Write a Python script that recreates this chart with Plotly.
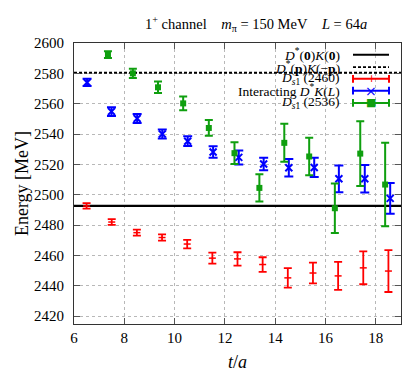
import plotly.graph_objects as go

# lattice data
t_2460 = [6.5, 7.5, 8.5, 9.5, 10.5, 11.5, 12.5, 13.5, 14.5, 15.5, 16.5, 17.5, 18.5]
e_2460 = [2492.6, 2482.0, 2475.0, 2471.8, 2467.5, 2458.2, 2457.7, 2454.0, 2445.2, 2448.4, 2446.5, 2451.8, 2449.7]
err_2460 = [1.8, 1.9, 2.0, 2.1, 2.8, 3.6, 4.4, 4.8, 6.4, 6.8, 9.2, 10.8, 13.8]

t_int = [6.52, 7.49, 8.51, 9.51, 10.52, 11.53, 12.55, 13.54, 14.54, 15.55, 16.53, 17.56, 18.57]
e_int = [2574.0, 2554.8, 2550.2, 2540.0, 2535.3, 2528.2, 2524.6, 2520.2, 2517.8, 2518.0, 2510.5, 2510.5, 2497.6]
err_int = [2.4, 2.9, 3.0, 3.0, 3.2, 3.8, 4.6, 4.1, 5.8, 6.3, 8.8, 9.1, 10.1]

t_2536 = [7.35, 8.34, 9.34, 10.34, 11.36, 12.38, 13.37, 14.36, 15.35, 16.37, 17.38, 18.37]
e_2536 = [2592.3, 2580.0, 2570.8, 2560.2, 2544.0, 2527.4, 2504.5, 2534.2, 2525.2, 2491.1, 2527.1, 2506.7]
err_2536 = [2.2, 3.0, 3.8, 4.6, 5.2, 7.2, 9.0, 12.5, 12.3, 16.3, 21.4, 27.5]

# non-interacting thresholds
e_thr_0 = 2492.7
e_thr_p = 2580.4

x_range = [6, 19]
y_range = [2414.8, 2600]
x_ticks = [6, 8, 10, 12, 14, 16, 18]
y_ticks = [2420, 2440, 2460, 2480, 2500, 2520, 2540, 2560, 2580, 2600]

legend_labels = [
    "<i>D</i><sup>*</sup>(<b>0</b>)<i>K</i>(<b>0</b>)",
    "<i>D</i><sup>*</sup>(<b>p</b>)<i>K</i>(−<b>p</b>)",
    "<i>D<sub>s</sub></i><sub>1</sub> (2460)",
    "Interacting <i>D</i><sup>*</sup><i>K</i>(<i>L</i>)",
    "<i>D<sub>s</sub></i><sub>1</sub> (2536)",
]

RED, BLUE, GREEN = "#ff0000", "#0000ff", "#0f9f0f"
FONT = "Liberation Serif, DejaVu Serif, serif"

W, H = 415, 373
L, R, T, B = 66, 22, 35, 52
pw, ph = W - L - R, H - T - B


def px(x):
    return (x - L) / pw


def py(y):
    return (H - B - y) / ph


fig = go.Figure()
fig.add_trace(go.Scatter(x=x_range, y=[e_thr_0, e_thr_0], mode="lines",
                         line=dict(color="black", width=2.2), showlegend=False))
fig.add_trace(go.Scatter(x=x_range, y=[e_thr_p, e_thr_p], mode="lines",
                         line=dict(color="black", width=1.8, dash="3px,2px"), showlegend=False))
fig.add_trace(go.Scatter(x=t_2460, y=e_2460, mode="markers",
                         marker=dict(symbol="line-ew", size=5, line=dict(color=RED, width=1.5)),
                         error_y=dict(type="data", array=err_2460, color=RED, thickness=1.8, width=4),
                         showlegend=False))
fig.add_trace(go.Scatter(x=t_int, y=e_int, mode="markers",
                         marker=dict(symbol="x-thin", size=7, line=dict(color=BLUE, width=2)),
                         error_y=dict(type="data", array=err_int, color=BLUE, thickness=2, width=4.5),
                         showlegend=False))
fig.add_trace(go.Scatter(x=t_2536, y=e_2536, mode="markers",
                         marker=dict(symbol="square", size=6, color=GREEN),
                         error_y=dict(type="data", array=err_2536, color=GREEN, thickness=2, width=4),
                         showlegend=False))

# gnuplot-style key: text right-aligned, sample on the right
rows_y = [47, 59.5, 71.5, 83.5, 96]
styles = [("black", "solid"), ("black", "dash"), (RED, "+"), (BLUE, "×"), (GREEN, "■")]
for lab, yy, (col, kind) in zip(legend_labels, rows_y, styles):
    fig.add_annotation(xref="paper", yref="paper", x=px(334), y=py(yy), text=lab,
                       showarrow=False, xanchor="right", yanchor="middle",
                       font=dict(family=FONT, size=13.5, color="black"))
    if kind in ("solid", "dash"):
        fig.add_shape(type="line", xref="paper", yref="paper", x0=px(345), x1=px(381),
                      y0=py(yy), y1=py(yy),
                      line=dict(color=col, width=2 if kind == "solid" else 1.8,
                                dash="solid" if kind == "solid" else "3px,2px"))
    else:
        fig.add_shape(type="line", xref="paper", yref="paper", x0=px(345), x1=px(381),
                      y0=py(yy), y1=py(yy), line=dict(color=col, width=2))
        for xx in (345, 381):
            fig.add_shape(type="line", xref="paper", yref="paper", x0=px(xx), x1=px(xx),
                          y0=py(yy - 4), y1=py(yy + 4), line=dict(color=col, width=2))
        fig.add_annotation(xref="paper", yref="paper", x=px(363), y=py(yy), text=kind,
                           showarrow=False, xanchor="center", yanchor="middle",
                           font=dict(family="DejaVu Sans", size=11 if kind != "×" else 14, color=col))

fig.add_annotation(xref="paper", yref="paper", x=px(248), y=py(16),
                   text="1<sup>+</sup> channel\u00a0\u00a0\u00a0 <i>m</i><sub>π</sub> = 150 MeV\u00a0\u00a0\u00a0 <i>L</i> = 64<i>a</i>",
                   showarrow=False, xanchor="center", yanchor="middle",
                   font=dict(family=FONT, size=14.5, color="black"))

axis_common = dict(showline=True, linecolor="#333", linewidth=1.2, mirror="ticks",
                   ticks="inside", ticklen=6, tickcolor="#555", tickwidth=1,
                   showgrid=True, gridcolor="#b8b8b8", griddash="dot", gridwidth=1,
                   zeroline=False, tickfont=dict(family=FONT, size=15, color="black"))
fig.update_xaxes(range=x_range, tickvals=x_ticks, autorange=False,
                 title=dict(text="<i>t</i>/<i>a</i>", font=dict(family=FONT, size=18, color="black"), standoff=10),
                 **axis_common)
fig.update_yaxes(range=y_range, tickvals=y_ticks, autorange=False, ticklabelstandoff=6,
                 title=dict(text="Energy [MeV]", font=dict(family=FONT, size=18, color="black"), standoff=0),
                 **axis_common)
fig.update_layout(width=W, height=H,
                  margin=dict(l=L, r=R, t=T, b=B),
                  font=dict(family=FONT, color="black"),
                  plot_bgcolor="white",
                  paper_bgcolor="white",
                  showlegend=False)
fig.write_html("out.html")
